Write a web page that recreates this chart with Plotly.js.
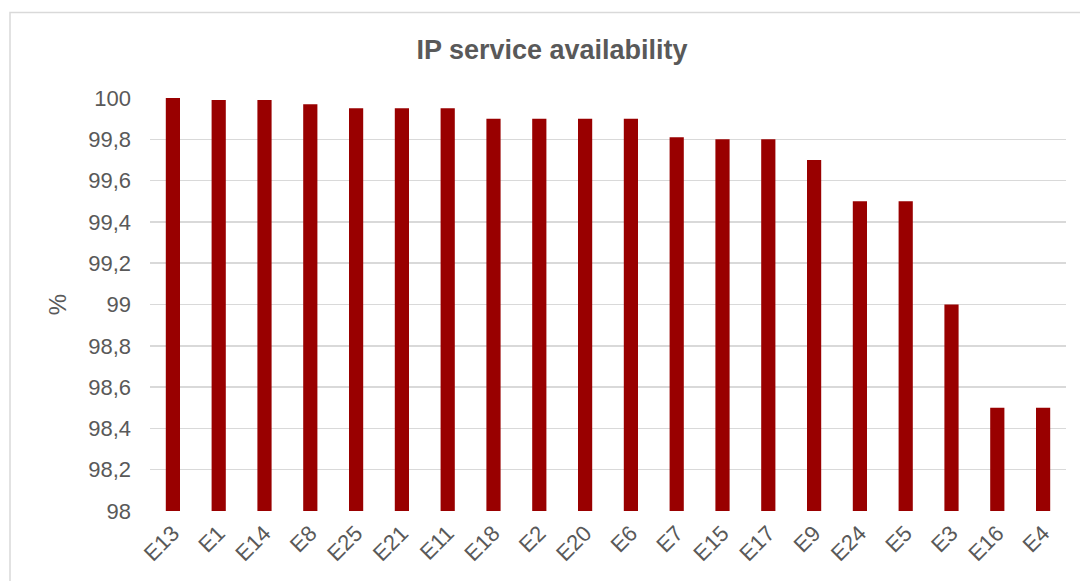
<!DOCTYPE html>
<html>
<head>
<meta charset="utf-8">
<script src="https://cdn.plot.ly/plotly-3.0.1.min.js"></script>
<style>
  html, body { margin: 0; padding: 0; background: #fff; }
  #chart { width: 1080px; height: 581px; }
</style>
</head>
<body>
<div id="chart"></div>
<script>
// operators, sorted by availability
var operators = ['E13', 'E1', 'E14', 'E8', 'E25', 'E21', 'E11', 'E18', 'E2', 'E20',
                 'E6', 'E7', 'E15', 'E17', 'E9', 'E24', 'E5', 'E3', 'E16', 'E4'];
var availability = [100, 99.99, 99.99, 99.97, 99.95, 99.95, 99.95, 99.9, 99.9, 99.9,
                    99.9, 99.81, 99.8, 99.8, 99.7, 99.5, 99.5, 99.0, 98.5, 98.5];

var textGrey = '#595959';
var font = 'Liberation Sans, Arial, sans-serif';

Plotly.newPlot('chart', [{
    x: operators,
    y: availability,
    type: 'bar',
    marker: { color: '#990000' },
    hoverinfo: 'x+y'
}], {
    width: 1080,
    height: 581,
    margin: { l: 150, r: 14, t: 98, b: 70 },
    paper_bgcolor: '#fff',
    plot_bgcolor: '#fff',
    separators: ',.',
    bargap: 0.69,
    showlegend: false,
    font: { family: font, color: textGrey },
    title: {
        text: '<b>IP service availability</b>',
        font: { family: font, size: 27, color: textGrey },
        xref: 'container', yref: 'container',
        x: 552 / 1080, xanchor: 'center',
        y: 1 - 50 / 581, yanchor: 'middle'
    },
    xaxis: {
        tickangle: -45,
        tickfont: { family: font, size: 22, color: textGrey },
        ticklabelstandoff: 4,
        showgrid: false,
        showline: false,
        zeroline: false,
        ticks: ''
    },
    yaxis: {
        range: [98, 100],
        tick0: 98,
        dtick: 0.2,
        showgrid: true,
        gridcolor: '#d9d9d9',
        gridwidth: 1.5,
        zeroline: false,
        showline: false,
        ticks: '',
        ticklabelstandoff: 18,
        tickfont: { family: font, size: 22, color: textGrey },
        title: {
            text: '%',
            font: { family: font, size: 24, color: textGrey },
            standoff: 14
        }
    },
    shapes: [{
        type: 'rect',
        xref: 'paper', yref: 'paper',
        x0: (10 - 150) / 916, x1: (1090 - 150) / 916,
        y0: -0.3, y1: (511 - 12.5) / 413,
        line: { color: '#d9d9d9', width: 1.5 },
        fillcolor: 'rgba(0,0,0,0)',
        layer: 'below'
    }]
}, { displayModeBar: false, staticPlot: true });
</script>
</body>
</html>
